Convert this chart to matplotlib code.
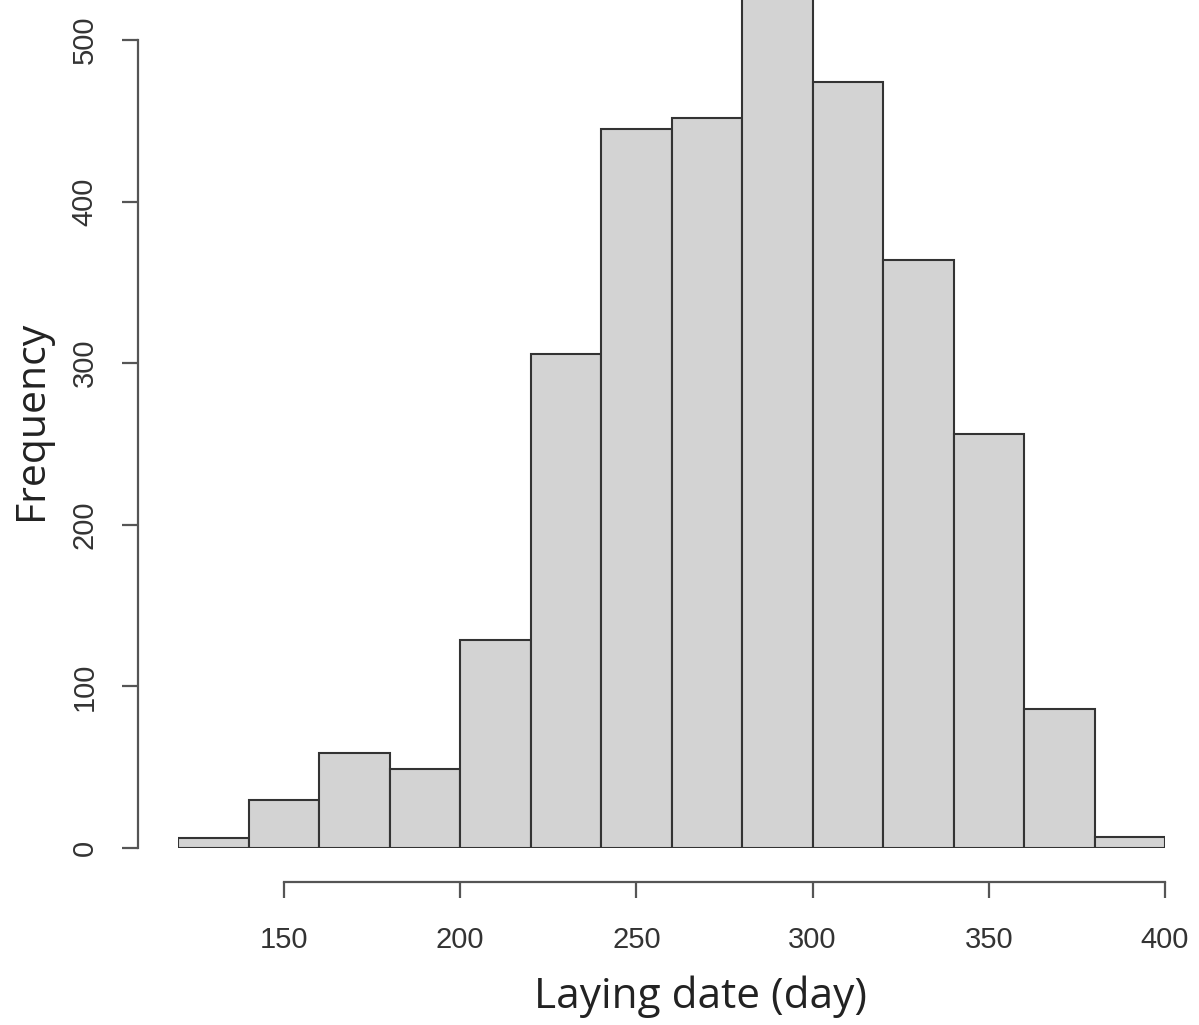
import matplotlib.pyplot as plt

# ヒストグラムのビン（左端）と度数
bin_left = [120, 140, 160, 180, 200, 220, 240, 260, 280, 300, 320, 340, 360, 380]
counts = [6, 30, 59, 49, 129, 306, 445, 452, 540, 474, 364, 256, 86, 7]
bin_width = 20

xticks = [150, 200, 250, 300, 350, 400]
yticks = [0, 100, 200, 300, 400, 500]

W, H = 1199, 1025
fig = plt.figure(figsize=(W / 100, H / 100), dpi=100)

# data x=120 -> px 178.3, x=400 -> px 1165 ; y=0 -> px 848, 100 units = 161.6 px
x0, x1 = 178.3, 1165
y0 = 848
ytop = y0 / 1.616
ax = fig.add_axes([x0 / W, (H - y0) / H, (x1 - x0) / W, y0 / H])
ax.set_xlim(120, 400)
ax.set_ylim(0, ytop)

ax.bar(bin_left, counts, width=bin_width, align="edge",
       color="#d3d3d3", edgecolor="#333333", linewidth=1.5, clip_on=True)

# R風の軸（データ領域から離して描く）
for s in ["top", "right"]:
    ax.spines[s].set_visible(False)
ax.spines["left"].set_position(("outward", 28.8))
ax.spines["left"].set_bounds(0, 500)
ax.spines["bottom"].set_position(("outward", 24.5))
ax.spines["bottom"].set_bounds(150, 400)
for s in ["left", "bottom"]:
    ax.spines[s].set_color("#555555")
    ax.spines[s].set_linewidth(1.6)

ax.set_xticks(xticks)
ax.set_yticks(yticks)
ax.tick_params(axis="both", length=11.5, width=1.6, color="#555555",
               labelcolor="#333333", labelsize=21)
ax.tick_params(axis="x", pad=20)
ax.tick_params(axis="y", pad=17)
for lab in ax.get_yticklabels():
    lab.set_rotation(90)
    lab.set_va("center")
for lab in ax.get_xticklabels() + ax.get_yticklabels():
    lab.set_family("Liberation Sans")

fig.text(701 / W, 1 - 997 / H, "Laying date (day)", ha="center", va="center",
         fontsize=30.5, family="Open Sans", color="#222222")
fig.text(32 / W, 1 - 420 / H, "Frequency", ha="center", va="center",
         rotation=90, fontsize=29.5, family="Open Sans", color="#222222")

fig.savefig("out.png", dpi=100)
